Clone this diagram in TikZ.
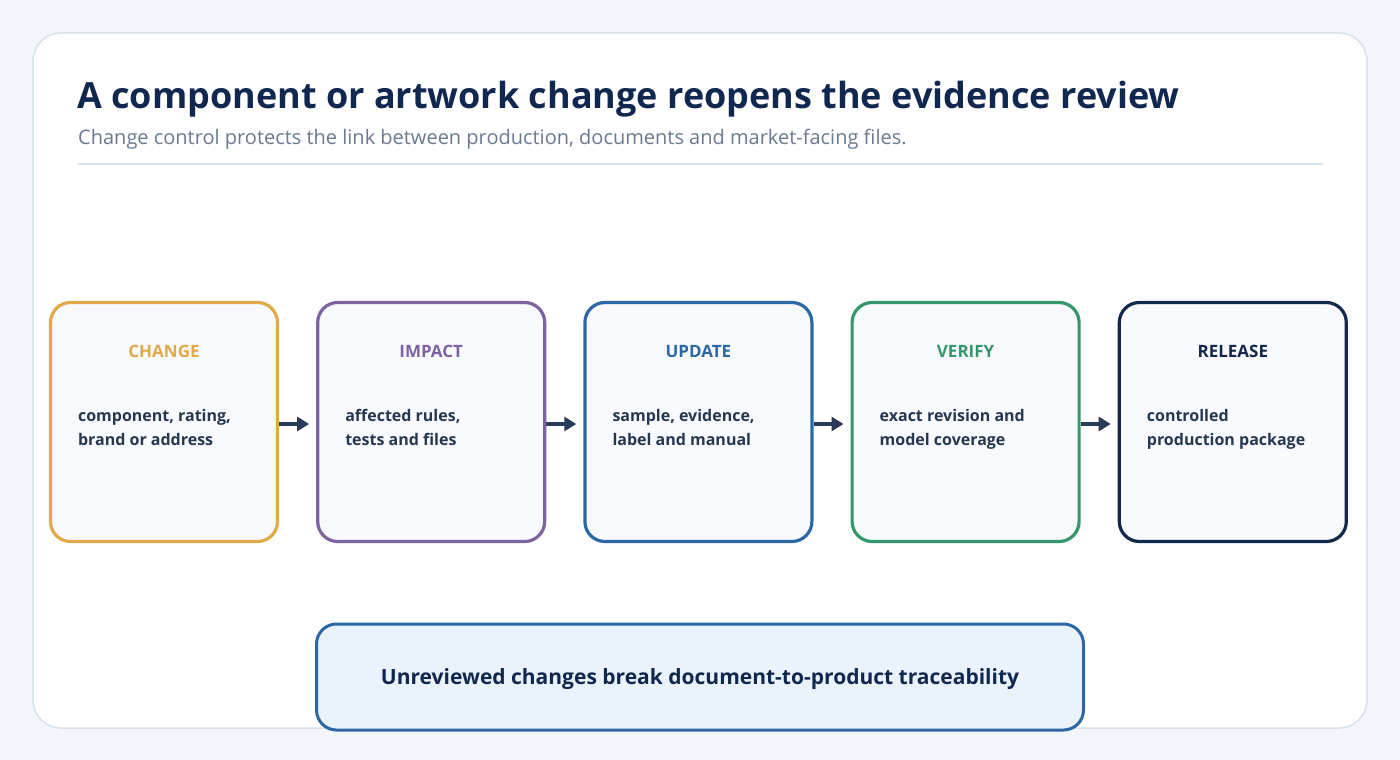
\documentclass[tikz,border=0pt]{standalone}
\usepackage{fontspec}
\setmainfont{Open Sans}
\usetikzlibrary{positioning, arrows.meta}

\definecolor{pagebg}{HTML}{F3F7FB}
\definecolor{cardline}{HTML}{D8E2EC}
\definecolor{titlecol}{HTML}{10284F}
\definecolor{subcol}{HTML}{6B7A90}
\definecolor{boxfill}{HTML}{F8FAFD}
\definecolor{bodycol}{HTML}{263750}
\definecolor{arrowcol}{HTML}{2A3B5A}
\definecolor{notefill}{HTML}{EAF2FB}
\definecolor{changecol}{HTML}{E0A94A}
\definecolor{impactcol}{HTML}{7E63A2}
\definecolor{updatecol}{HTML}{2C68A5}
\definecolor{verifycol}{HTML}{35976D}
\definecolor{releasecol}{HTML}{14284B}

\begin{document}
\begin{tikzpicture}[x=1pt, y=-1pt,
    stepbox/.style={rectangle, draw=#1, fill=boxfill, line width=3.2pt, rounded corners=20pt, minimum width=227pt, minimum height=239pt},
    steptitle/.style={text=#1, font=\bfseries\fontsize{17}{20}\selectfont},
    stepbody/.style={anchor=west, align=left, inner sep=0pt, text=bodycol, font=\bfseries\fontsize{16}{24}\selectfont},
    flow/.style={-{Triangle[length=12pt, width=14pt]}, line width=4pt, draw=arrowcol, shorten >=7pt}]
    \useasboundingbox (0,0) rectangle (1400,760);
    \fill [pagebg] (0,0) rectangle (1400,760);
    \draw [cardline, fill=white, line width=1.5pt, rounded corners=28pt] (33,33) rectangle (1367,728);

    % Heading
    \node [anchor=base west, text=titlecol, font=\bfseries\fontsize{36}{40}\selectfont, inner sep=0pt] (title) at (77,108) {A component or artwork change reopens the evidence review};
    \node [anchor=base west, text=subcol, font=\fontsize{20}{24}\selectfont, inner sep=0pt] (subtitle) at (78,144) {Change control protects the link between production, documents and market-facing files.};
    \draw [cardline, line width=2pt] (78,164) -- (1323,164);

    % Nodes
    \node [stepbox=changecol] (change) at (164,422) {};
    \node [stepbox=impactcol, right=37pt of change] (impact) {};
    \node [stepbox=updatecol, right=37pt of impact] (update) {};
    \node [stepbox=verifycol, right=37pt of update] (verify) {};
    \node [stepbox=releasecol, right=37pt of verify] (release) {};

    \node [steptitle=changecol] (change-title) at ([yshift=-51pt]change.north) {CHANGE};
    \node [steptitle=impactcol] (impact-title) at ([yshift=-51pt]impact.north) {IMPACT};
    \node [steptitle=updatecol] (update-title) at ([yshift=-51pt]update.north) {UPDATE};
    \node [steptitle=verifycol] (verify-title) at ([yshift=-51pt]verify.north) {VERIFY};
    \node [steptitle=releasecol] (release-title) at ([yshift=-51pt]release.north) {RELEASE};

    \node [stepbody] (change-text) at ([xshift=29pt, yshift=-7pt]change.west) {\strut component, rating,\\\strut brand or address};
    \node [stepbody] (impact-text) at ([xshift=29pt, yshift=-7pt]impact.west) {\strut affected rules,\\\strut tests and files};
    \node [stepbody] (update-text) at ([xshift=29pt, yshift=-7pt]update.west) {\strut sample, evidence,\\\strut label and manual};
    \node [stepbody] (verify-text) at ([xshift=29pt, yshift=-7pt]verify.west) {\strut exact revision and\\\strut model coverage};
    \node [stepbody] (release-text) at ([xshift=29pt, yshift=-7pt]release.west) {\strut controlled\\\strut production package};

    \node [rectangle, draw=updatecol, fill=notefill, line width=3pt, rounded corners=20pt, minimum width=767pt, minimum height=106pt, text depth=0pt, text=titlecol, font=\bfseries\fontsize{21}{24}\selectfont] (note) at (700,677) {Unreviewed changes break document-to-product traceability};

    % Arrows
    \draw [flow] ([yshift=-2pt]change.east) -- ([yshift=-2pt]impact.west);
    \draw [flow] ([yshift=-2pt]impact.east) -- ([yshift=-2pt]update.west);
    \draw [flow] ([yshift=-2pt]update.east) -- ([yshift=-2pt]verify.west);
    \draw [flow] ([yshift=-2pt]verify.east) -- ([yshift=-2pt]release.west);
\end{tikzpicture}
\end{document}
